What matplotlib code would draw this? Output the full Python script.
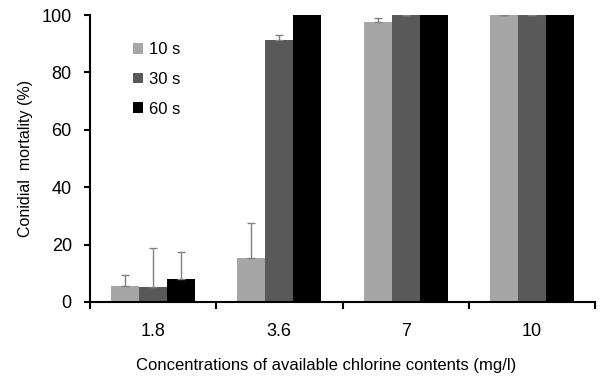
import matplotlib
matplotlib.use("Agg")
import matplotlib.pyplot as plt
import numpy as np

# -----------------------------
# Data
# -----------------------------

concentrations = ["1.8", "3.6", "7", "10"]
series_names = ["10 s", "30 s", "60 s"]

mortality_10s = [5.6, 15.2, 97.7, 100]
mortality_30s = [5.3, 91.3, 100, 100]
mortality_60s = [8.1, 100, 100, 100]

err_10s = [3.8, 12.2, 1.1, 0]
err_30s = [13.4, 1.8, 0, 0]
err_60s = [9.2, 0, 0, 0]

colors = ["#a6a6a6", "#595959", "#000000"]

plt.rcParams["font.family"] = ["Liberation Sans", "DejaVu Sans"]

# -----------------------------
# Plot
# -----------------------------

fig = plt.figure(figsize=(6.03, 3.76), dpi=100)
ax = fig.add_axes([0.149, 0.197, 0.838, 0.763])

x = np.arange(len(concentrations))
width = 0.222

values = [mortality_10s, mortality_30s, mortality_60s]
errors = [err_10s, err_30s, err_60s]

for i in range(3):
    pos = x + (i - 1) * width
    ax.bar(pos, values[i], width=width, color=colors[i], label=series_names[i],
           zorder=2)
    err = np.array(errors[i], dtype=float)
    vals = np.array(values[i], dtype=float)
    # black bars hide their zero-length caps in the original
    keep = err > 0 if i == 2 else np.ones(len(err), dtype=bool)
    ax.errorbar(pos[keep], vals[keep], yerr=[np.zeros(keep.sum()), err[keep]],
                fmt="none", ecolor="#808080", elinewidth=1.0, capsize=2.8,
                capthick=1.0, zorder=3)

ax.set_xlim(-0.5, len(concentrations) - 0.5)
ax.set_ylim(0, 100)

ax.set_xticks(x)
ax.set_xticklabels(concentrations, fontsize=13)
ax.set_xticks(np.arange(-0.5, len(concentrations), 1.0), minor=True)
ax.tick_params(axis="x", which="major", length=0, pad=15)
ax.tick_params(axis="x", which="minor", length=5, width=1.5, direction="out")

ax.set_yticks([0, 20, 40, 60, 80, 100])
ax.tick_params(axis="y", labelsize=13, length=4.5, width=1.5,
               direction="out", pad=8.5)

for side in ["top", "right"]:
    ax.spines[side].set_visible(False)
ax.spines["left"].set_linewidth(1.5)
ax.spines["bottom"].set_linewidth(1.5)

ax.set_ylabel("Conidial  mortality (%)", fontsize=11.5)
ax.yaxis.set_label_coords(-0.113, 0.5)
ax.set_xlabel("Concentrations of available chlorine contents (mg/l)",
              fontsize=12)
ax.xaxis.set_label_coords(0.468, -0.195)

ax.legend(loc="upper left", bbox_to_anchor=(0.085, 0.905), frameon=False,
          fontsize=12, handlelength=0.6, handleheight=0.6,
          handletextpad=0.35, labelspacing=0.88, borderpad=0,
          borderaxespad=0)

plt.savefig("out.png", dpi=100)
plt.close()
